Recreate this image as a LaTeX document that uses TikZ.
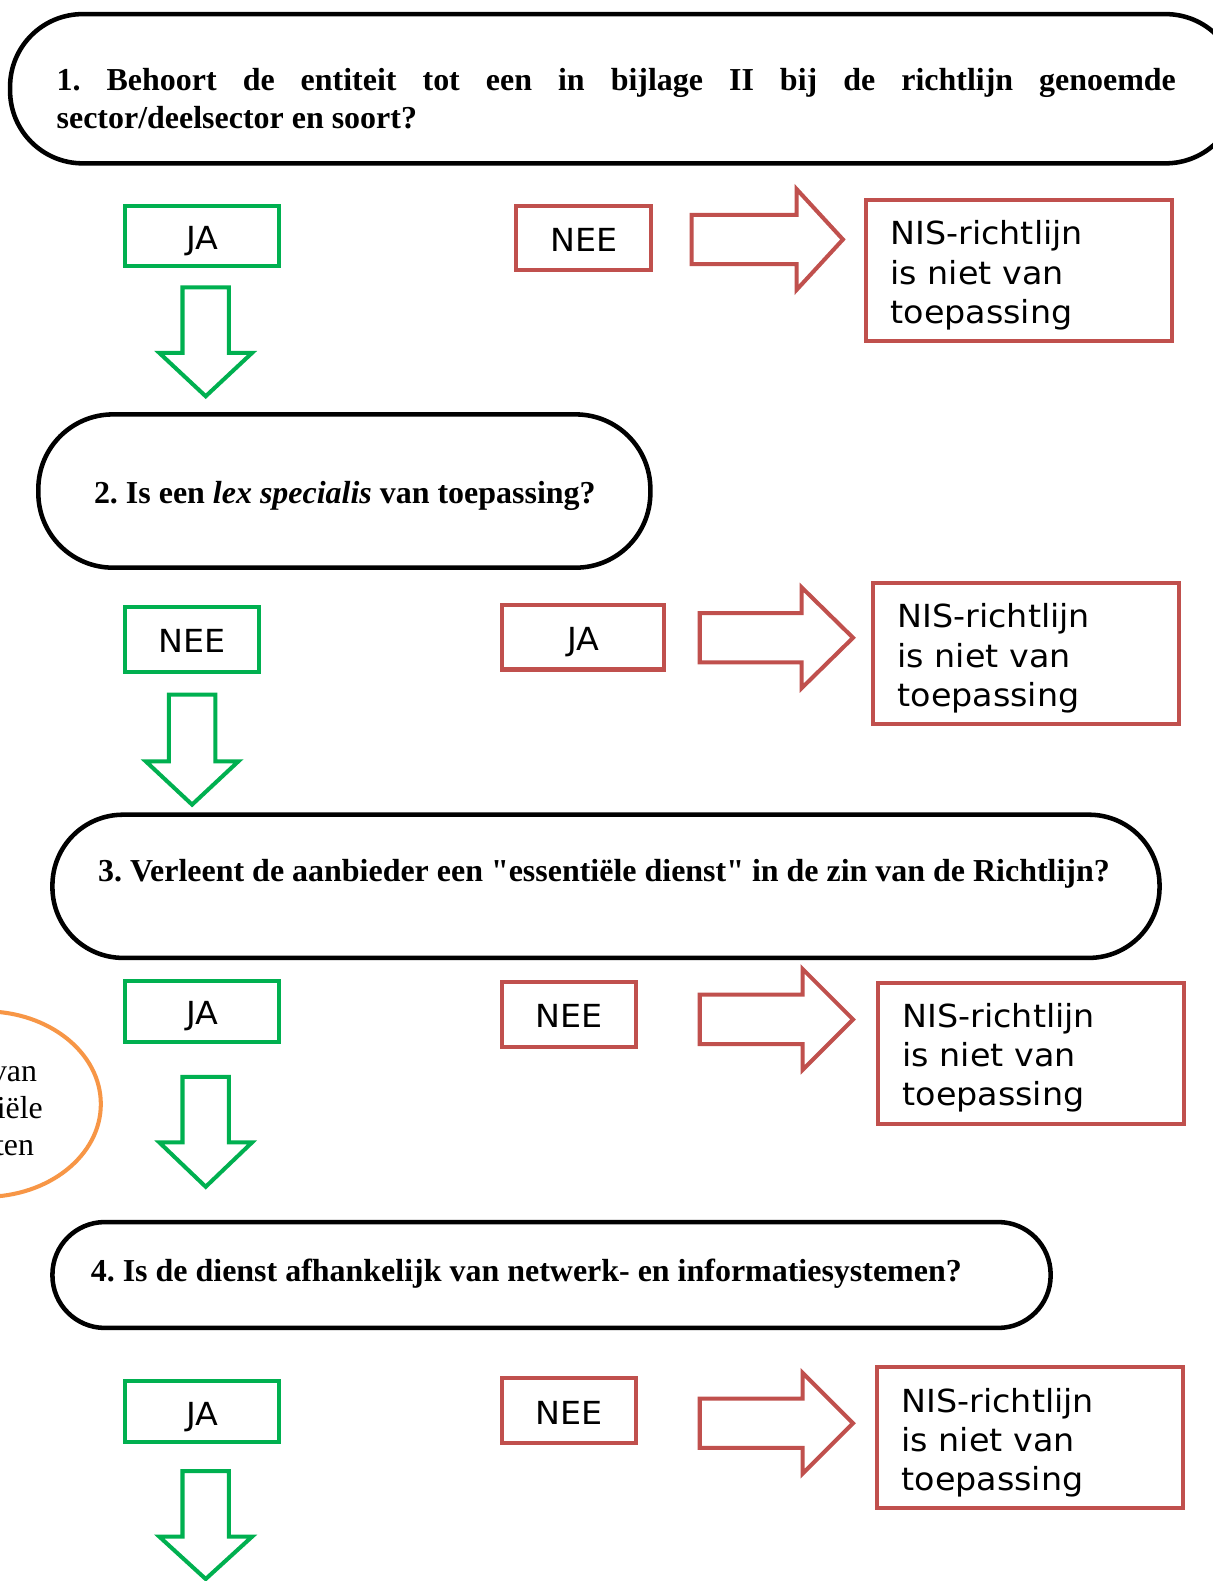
\documentclass[tikz,border=0pt]{standalone}
\usepackage{fontspec}
\setmainfont{Liberation Serif}
\newfontfamily\vsans[FakeStretch=1.05]{DejaVu Sans}
\definecolor{okgreen}{HTML}{00B050}
\definecolor{okred}{HTML}{C0504D}
\definecolor{okorange}{HTML}{F79646}
\newcommand{\sq}{{\addfontfeatures{Ligatures=TeXOff}"}}
\newcommand{\blockdown}[4]{\draw[garrow] ({#1-23},#2) -- ({#1+23},#2) -- ({#1+23},#3) -- ({#1+46},#3) -- (#1,#4) -- ({#1-46},#3) -- ({#1-23},#3) -- cycle;}
\newcommand{\blockright}[4]{\draw[rarrow] (#1,{#2-24.5}) -- (#3,{#2-24.5}) -- (#3,{#2-50}) -- (#4,#2) -- (#3,{#2+50}) -- (#3,{#2+24.5}) -- (#1,{#2+24.5}) -- cycle;}
\begin{document}
\frenchspacing
\begin{tikzpicture}[x=1pt,y=-1pt,
  stad/.style={draw=black, line width=4.5pt},
  sfont/.style={font=\vsans\fontsize{31.5}{39}\selectfont},
  gbox/.style={draw=okgreen, line width=4pt, sfont, inner sep=0pt, text height=27pt, text depth=0pt},
  rbox/.style={draw=okred, line width=4pt, sfont, inner sep=0pt, text height=27pt, text depth=0pt},
  bigbox/.style={draw=okred, line width=4pt, minimum width=303pt, minimum height=140pt, inner sep=0pt},
  bigtext/.style={sfont, align=left, inner sep=0pt, anchor=west},
  garrow/.style={draw=okgreen, line width=4pt, line join=miter},
  rarrow/.style={draw=okred, line width=4pt, line join=miter},
  qtext/.style={font=\fontsize{31.7}{37}\selectfont\bfseries, inner sep=0pt},
]
\useasboundingbox (0,0) rectangle (1203,1568);
\clip (0,0) rectangle (1203,1568);
\fill[white] (0,0) rectangle (1203,1568);

% question 1
\draw[stad, rounded corners=72] (10,14) rectangle (1228,162);
\node[qtext, anchor=north west, text width=1110pt, align=justify] (q1) at (56,68)
  {1. Behoort de entiteit tot een in bijlage II bij de richtlijn genoemde\linebreak sector/deelsector en soort?};

\node[gbox, minimum width=153pt, minimum height=60pt] (ja1) at (200.5,234) {JA};
\blockdown{204}{285}{350}{393}
\node[rbox, minimum width=134pt, minimum height=64pt] (nee1) at (579,236) {NEE};
\blockright{686}{237.5}{790}{836}
\node[bigbox] (nis1) at (1010.5,268) {};
\node[bigtext] (nis1t) at (883,273) {NIS-richtlijn\\is niet van\\toepassing};

% question 2
\draw[stad, rounded corners=74] (38,411) rectangle (645,563);
\node[qtext] (q2) at (342,492) {2. Is een \textit{lex specialis} van toepassing?};

\node[gbox, minimum width=133pt, minimum height=64pt] (nee2) at (190.5,634) {NEE};
\blockdown{190.5}{689}{755}{798}
\node[rbox, minimum width=161pt, minimum height=64pt] (ja2) at (578.5,632) {JA};
\blockright{694}{632.5}{795}{846}
\node[bigbox] (nis2) at (1017.5,648.5) {};
\node[bigtext] (nis2t) at (890,653) {NIS-richtlijn\\is niet van\\toepassing};

% question 3
\draw[stad, rounded corners=70] (52,808) rectangle (1150,950);
\node[qtext] (q3) at (599,867) {3. Verleent de aanbieder een \sq essentiële dienst\sq{} in de zin van de Richtlijn?};

\draw[okorange, line width=4pt] (-15,1095) ellipse [x radius=115, y radius=92];
\node[font=\fontsize{31.6}{37}\selectfont, align=center, inner sep=0pt] (lijst) at (-19,1099) {Lijst van\\essentiële\\diensten};

\node[gbox, minimum width=153pt, minimum height=60pt] (ja3) at (200.5,1003) {JA};
\blockdown{204}{1068}{1133}{1177}
\node[rbox, minimum width=133pt, minimum height=64pt] (nee3) at (564.5,1006) {NEE};
\blockright{694}{1011}{796}{846}
\node[bigbox] (nis3) at (1022.5,1045) {};
\node[bigtext] (nis3t) at (895,1049) {NIS-richtlijn\\is niet van\\toepassing};

% question 4
\draw[stad, rounded corners=52] (52,1212) rectangle (1042,1317);
\node[qtext] (q4) at (522,1263) {4. Is de dienst afhankelijk van netwerk- en informatiesystemen?};

\node[gbox, minimum width=153pt, minimum height=60pt] (ja4) at (200.5,1400) {JA};
\blockdown{204}{1459}{1524}{1566}
\node[rbox, minimum width=133pt, minimum height=64pt] (nee4) at (564.5,1399) {NEE};
\blockright{694}{1411.5}{796}{846}
\node[bigbox] (nis4) at (1021.5,1426) {};
\node[bigtext] (nis4t) at (894,1431) {NIS-richtlijn\\is niet van\\toepassing};
\end{tikzpicture}
\end{document}
